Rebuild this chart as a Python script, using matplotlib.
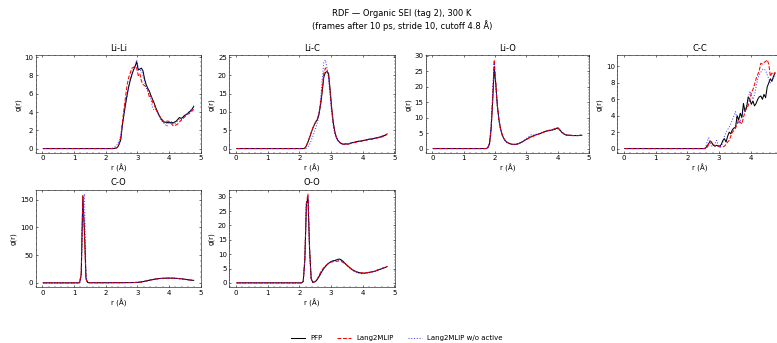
import numpy as np
import matplotlib.pyplot as plt
from matplotlib.ticker import AutoMinorLocator

# bin centres of the RDF histogram (0.05 A bins, cutoff 4.8 A)
r = np.round(0.025 + 0.05 * np.arange(96), 3)

labels = ['PFP', 'Lang2MLIP', 'Lang2MLIP w/o active']
pairs = ['Li-Li', 'Li-C', 'Li-O', 'C-C', 'C-O', 'O-O']


def pad(tail):
    """values below the listed tail are all g(r) = 0"""
    return np.array([0.0] * (len(r) - len(tail)) + tail)


# ---- Li-Li, tail starts at r = 2.025
lili_pfp = pad([0, 0, 0, 0, 0, 0.02, 0.05, 0.15, 0.5, 1.0,
                2.6, 3.8, 4.9, 5.9, 6.8, 7.5, 8.1, 8.6, 9.0, 9.5,
                8.6, 8.7, 8.8, 8.5, 7.6, 7.0, 6.6, 6.3, 5.8, 5.4,
                5.0, 4.5, 4.1, 3.7, 3.4, 3.1, 2.9, 2.9, 2.8, 2.9,
                2.8, 2.9, 2.8, 2.9, 3.0, 3.2, 3.4, 3.3, 3.4, 3.6,
                3.7, 3.8, 4.0, 4.1, 4.3, 4.6])
lili_l2m = pad([0, 0, 0, 0, 0, 0.02, 0.05, 0.2, 0.6, 1.3,
                2.9, 4.3, 5.7, 7.0, 7.8, 8.3, 8.8, 8.9, 9.0, 8.8,
                8.0, 8.2, 7.4, 7.0, 6.9, 6.7, 6.5, 5.6, 5.8, 5.1,
                4.8, 4.4, 4.0, 3.7, 3.4, 3.2, 3.0, 2.9, 3.0, 3.0,
                2.9, 2.7, 2.5, 2.5, 2.6, 2.7, 2.9, 3.1, 3.3, 3.4,
                3.6, 3.8, 3.8, 4.0, 4.1, 4.3])
lili_noact = pad([0, 0, 0, 0, 0.05, 0.15, 0.3, 0.5, 0.9, 1.5,
                  2.5, 3.7, 4.8, 5.8, 6.8, 7.6, 8.3, 8.7, 9.0, 9.7,
                  8.8, 8.6, 8.5, 8.0, 7.3, 6.7, 6.3, 5.9, 5.4, 4.5,
                  4.2, 4.3, 4.1, 3.6, 3.2, 3.0, 2.8, 2.7, 2.4, 2.8,
                  2.8, 2.9, 2.7, 2.7, 2.9, 3.0, 3.2, 3.1, 3.2, 3.5,
                  3.6, 3.8, 3.9, 4.2, 4.4, 4.7])

# ---- Li-C, tail starts at r = 2.025
lic_pfp = pad([0, 0, 0, 0.1, 0.8, 1.8, 3.0, 4.3, 5.5, 6.5,
               7.3, 8.0, 9.5, 12.0, 15.5, 19.5, 20.8, 21.0, 20.5, 16.0,
               11.0, 7.0, 4.5, 3.0, 2.2, 1.7, 1.4, 1.2, 1.2, 1.3,
               1.2, 1.3, 1.5, 1.6, 1.7, 1.8, 1.9, 2.0, 2.0, 2.1,
               2.2, 2.3, 2.4, 2.5, 2.6, 2.6, 2.7, 2.8, 2.9, 3.0,
               3.1, 3.2, 3.4, 3.5, 3.7, 4.0])
lic_l2m = pad([0, 0, 0, 0.1, 0.8, 1.9, 3.1, 4.4, 5.6, 6.6,
               7.4, 8.2, 9.8, 12.5, 16.5, 20.5, 22.0, 21.5, 20.0, 15.5,
               10.5, 6.8, 4.4, 3.0, 2.2, 1.7, 1.4, 1.2, 1.2, 1.2,
               1.2, 1.3, 1.4, 1.5, 1.6, 1.7, 1.8, 1.9, 2.0, 2.0,
               2.1, 2.2, 2.3, 2.4, 2.5, 2.5, 2.6, 2.7, 2.8, 2.9,
               3.0, 3.1, 3.2, 3.4, 3.6, 3.9])
lic_noact = pad([0, 0, 0, 0, 0.1, 0.5, 1.2, 2.2, 3.3, 4.5,
                 5.8, 7.2, 9.5, 13.5, 19.0, 23.5, 24.2, 22.0, 19.0, 14.5,
                 9.5, 6.2, 4.0, 2.8, 2.1, 1.6, 1.4, 1.2, 1.2, 1.3,
                 1.3, 1.4, 1.5, 1.6, 1.7, 1.8, 1.9, 2.0, 2.1, 2.1,
                 2.2, 2.3, 2.4, 2.5, 2.6, 2.6, 2.7, 2.8, 2.9, 3.0,
                 3.1, 3.2, 3.4, 3.5, 3.7, 4.0])

# ---- Li-O, tail starts at r = 1.525
lio_pfp = pad([0, 0, 0, 0, 0.02, 0.3, 1.5, 6.0, 15.0, 26.0,
               21.0, 14.0, 9.5, 6.5, 4.6, 3.4, 2.6, 2.1, 1.8, 1.6,
               1.4, 1.35, 1.35, 1.4, 1.5, 1.7, 1.9, 2.2, 2.5, 2.8,
               3.1, 3.4, 3.7, 3.9, 4.1, 4.3, 4.5, 4.6, 4.8, 5.0,
               5.2, 5.4, 5.6, 5.7, 5.8, 5.9, 6.0, 6.1, 6.3, 6.6,
               6.5, 6.0, 5.4, 5.0, 4.6, 4.4, 4.3, 4.3, 4.3, 4.2,
               4.2, 4.2, 4.2, 4.2, 4.3, 4.3])
lio_l2m = pad([0, 0, 0, 0, 0.02, 0.3, 1.6, 6.3, 16.0, 28.6,
               21.5, 14.0, 9.5, 6.5, 4.6, 3.4, 2.6, 2.1, 1.8, 1.6,
               1.4, 1.35, 1.35, 1.4, 1.5, 1.7, 1.9, 2.2, 2.5, 2.8,
               3.1, 3.3, 3.6, 3.8, 4.0, 4.2, 4.4, 4.6, 4.8, 5.0,
               5.2, 5.4, 5.6, 5.8, 5.9, 6.0, 6.1, 6.3, 6.5, 6.8,
               6.6, 6.0, 5.3, 4.9, 4.6, 4.4, 4.3, 4.3, 4.3, 4.2,
               4.2, 4.2, 4.2, 4.2, 4.3, 4.3])
lio_noact = pad([0, 0, 0, 0, 0.03, 0.4, 2.0, 7.5, 18.0, 27.6,
                 20.0, 13.5, 9.0, 6.2, 4.4, 3.3, 2.5, 2.0, 1.7, 1.5,
                 1.4, 1.35, 1.35, 1.4, 1.5, 1.7, 1.9, 2.2, 2.6, 3.0,
                 3.4, 3.8, 4.3, 4.5, 4.4, 4.5, 4.6, 4.7, 4.9, 5.1,
                 5.3, 5.5, 5.6, 5.7, 5.8, 5.9, 6.0, 6.1, 6.2, 6.4,
                 6.3, 5.8, 5.2, 4.8, 4.5, 4.3, 4.3, 4.3, 4.2, 4.2,
                 4.2, 4.2, 4.2, 4.2, 4.3, 4.3])

# ---- C-C, tail starts at r = 2.525
cc_pfp = pad([0, 0.05, 0.3, 0.6, 0.9, 0.7, 0.4, 0.3, 0.4, 0.3,
              0.3, 0.5, 1.0, 1.2, 0.8, 1.5, 2.0, 1.8, 2.3, 2.5,
              2.6, 4.0, 3.5, 4.3, 3.8, 5.5, 4.5, 5.0, 6.3, 6.0,
              5.4, 5.8, 5.2, 5.5, 6.0, 6.3, 6.4, 6.0, 6.6, 6.2,
              7.5, 8.0, 8.5, 8.2, 8.8, 9.2])
cc_l2m = pad([0, 0, 0.1, 0.5, 0.9, 0.8, 0.5, 0.3, 0.3, 0.3,
              0.2, 0.2, 0.2, 0.3, 0.5, 0.8, 1.0, 1.5, 2.0, 2.2,
              2.5, 3.0, 3.5, 3.2, 3.0, 3.8, 4.5, 5.0, 5.2, 6.0,
              6.8, 7.2, 7.8, 8.5, 9.0, 9.5, 10.4, 10.3, 10.5, 10.6,
              10.8, 10.3, 8.8, 9.2, 9.0, 9.3])
cc_noact = pad([0, 0.1, 0.8, 1.3, 0.8, 0.3, 0.3, 0.6, 1.0, 0.5,
                0.2, 0.3, 0.8, 1.5, 2.0, 2.3, 2.6, 3.0, 3.5, 4.0,
                4.5, 3.5, 3.0, 3.3, 4.0, 5.0, 4.8, 5.2, 6.0, 7.0,
                6.5, 6.0, 6.5, 7.5, 8.5, 9.0, 9.3, 9.6, 9.7, 9.5,
                9.0, 8.5, 8.0, 8.3, 8.6, 8.8])

# ---- C-O, tail starts at r = 1.025
co_pfp = pad([0, 0, 0, 0.5, 15, 157, 95, 8, 0.8, 0.3,
              0.2, 0.2, 0.2, 0.2, 0.2, 0.2, 0.2, 0.2, 0.2, 0.2,
              0.2, 0.2, 0.3, 0.3, 0.3, 0.3, 0.3, 0.3, 0.3, 0.3,
              0.3, 0.4, 0.4, 0.4, 0.5, 0.5, 0.5, 0.6, 0.7, 0.8,
              1.0, 1.3, 1.7, 2.2, 2.8, 3.4, 4.0, 4.7, 5.3, 5.9,
              6.4, 6.9, 7.3, 7.6, 7.9, 8.1, 8.3, 8.4, 8.5, 8.5,
              8.5, 8.5, 8.4, 8.3, 8.1, 7.9, 7.6, 7.3, 7.0, 6.6,
              6.2, 5.8, 5.4, 5.0, 4.7, 4.4])
co_l2m = pad([0, 0, 0, 0.6, 18, 155, 90, 7, 0.8, 0.3,
              0.2, 0.2, 0.2, 0.2, 0.2, 0.2, 0.2, 0.2, 0.2, 0.2,
              0.2, 0.2, 0.3, 0.3, 0.3, 0.3, 0.3, 0.3, 0.3, 0.3,
              0.3, 0.4, 0.4, 0.4, 0.5, 0.5, 0.5, 0.6, 0.7, 0.8,
              1.0, 1.3, 1.7, 2.2, 2.8, 3.4, 4.0, 4.6, 5.2, 5.8,
              6.3, 6.8, 7.2, 7.5, 7.8, 8.0, 8.2, 8.3, 8.4, 8.4,
              8.4, 8.4, 8.3, 8.2, 8.0, 7.8, 7.5, 7.2, 6.9, 6.5,
              6.1, 5.7, 5.3, 4.9, 4.6, 4.3])
co_noact = pad([0, 0, 0, 0.4, 12, 145, 160, 12, 0.8, 0.3,
                0.2, 0.2, 0.2, 0.2, 0.2, 0.2, 0.2, 0.2, 0.2, 0.2,
                0.2, 0.2, 0.3, 0.3, 0.3, 0.3, 0.3, 0.3, 0.3, 0.3,
                0.3, 0.4, 0.4, 0.4, 0.5, 0.5, 0.5, 0.6, 0.7, 0.8,
                1.0, 1.3, 1.7, 2.2, 2.8, 3.4, 4.0, 4.7, 5.3, 5.9,
                6.4, 6.9, 7.3, 7.6, 7.9, 8.1, 8.3, 8.4, 8.5, 8.6,
                8.6, 8.5, 8.4, 8.3, 8.1, 7.9, 7.6, 7.3, 7.0, 6.6,
                6.2, 5.8, 5.4, 5.0, 4.7, 4.4])

# ---- O-O, tail starts at r = 2.025
oo_pfp = pad([0, 0, 0.5, 8.0, 27.5, 29.5, 12.0, 1.5, 0.2, 0.3,
              0.6, 1.3, 2.2, 3.2, 4.2, 5.0, 5.7, 6.3, 6.8, 7.2,
              7.5, 7.7, 7.8, 8.0, 8.2, 8.3, 8.0, 7.6, 7.0, 6.5,
              6.0, 5.5, 5.0, 4.6, 4.3, 4.0, 3.8, 3.6, 3.5, 3.4,
              3.4, 3.4, 3.5, 3.6, 3.7, 3.8, 3.9, 4.0, 4.2, 4.4,
              4.6, 4.8, 5.0, 5.2, 5.4, 5.7])
oo_l2m = pad([0, 0, 0.6, 8.5, 28.0, 31.0, 11.5, 1.4, 0.2, 0.3,
              0.7, 1.5, 2.6, 3.7, 4.6, 5.3, 5.9, 6.4, 6.8, 7.1,
              7.3, 7.4, 7.5, 7.5, 7.6, 7.6, 7.4, 7.2, 6.8, 6.4,
              5.9, 5.4, 5.0, 4.6, 4.3, 4.0, 3.8, 3.6, 3.5, 3.5,
              3.5, 3.5, 3.6, 3.6, 3.7, 3.8, 3.9, 4.1, 4.3, 4.5,
              4.7, 4.9, 5.1, 5.3, 5.5, 5.7])
oo_noact = pad([0, 0, 0.5, 8.0, 28.0, 30.0, 11.0, 1.3, 0.2, 0.3,
                0.6, 1.3, 2.2, 3.2, 4.2, 5.0, 5.7, 6.3, 6.8, 7.2,
                7.5, 7.7, 7.8, 7.9, 8.0, 8.0, 7.8, 7.4, 6.9, 6.4,
                5.9, 5.4, 4.9, 4.5, 4.1, 3.8, 3.6, 3.4, 3.3, 3.2,
                3.2, 3.3, 3.3, 3.4, 3.6, 3.7, 3.9, 4.0, 4.2, 4.4,
                4.6, 4.8, 5.0, 5.2, 5.4, 5.6])

rdf = {
    'Li-Li': (lili_pfp, lili_l2m, lili_noact),
    'Li-C': (lic_pfp, lic_l2m, lic_noact),
    'Li-O': (lio_pfp, lio_l2m, lio_noact),
    'C-C': (cc_pfp, cc_l2m, cc_noact),
    'C-O': (co_pfp, co_l2m, co_noact),
    'O-O': (oo_pfp, oo_l2m, oo_noact),
}

plt.rcParams['font.family'] = 'DejaVu Sans'
plt.rcParams['font.size'] = 10
plt.rcParams['xtick.direction'] = 'in'
plt.rcParams['ytick.direction'] = 'in'
plt.rcParams['xtick.top'] = True
plt.rcParams['ytick.right'] = True

W, H = 777, 343
fig = plt.figure(figsize=(W / 50, H / 50), dpi=50)

# axes boxes in pixels: left, top, width, height
boxes = {
    'Li-Li': (35.7, 55.5, 165.5, 97.5),
    'Li-C': (229.3, 55.5, 165.3, 97.5),
    'Li-O': (425.7, 55.5, 163.6, 97.5),
    'C-C': (617.3, 55.5, 165.3, 97.5),
    'C-O': (35.7, 189.5, 165.5, 97.8),
    'O-O': (229.3, 189.5, 165.3, 97.8),
}

styles = [dict(color='black', ls='-'),
          dict(color='red', ls='--'),
          dict(color='blue', ls=':', alpha=0.7)]

for name in pairs:
    x0, y0, w, h = boxes[name]
    ax = fig.add_axes([x0 / W, 1 - (y0 + h) / H, w / W, h / H])
    for g, st, lab in zip(rdf[name], styles, labels):
        ax.plot(r, g, lw=1.5, label=lab, **st)
    ax.set_title(name)
    ax.set_xlabel('r (Å)')
    ax.set_ylabel('g(r)')
    if name == 'C-C':
        # the right edge of this panel runs past the picture
        ax.set_xticks([0, 1, 2, 3, 4, 5], ['0', '1', '2', '3', '4', ''])
    else:
        ax.set_xticks([0, 1, 2, 3, 4, 5])
    ax.xaxis.set_minor_locator(AutoMinorLocator())
    ax.yaxis.set_minor_locator(AutoMinorLocator())
    ax.tick_params(which='both', top=True, right=True)
    if name == 'Li-Li':
        handles, labs = ax.get_legend_handles_labels()

fig.text(402 / W, 1 - 9 / H,
         'RDF — Organic SEI (tag 2), 300 K\n(frames after 10 ps, stride 10, cutoff 4.8 Å)',
         ha='center', va='top', fontsize=12)

fig.legend(handles, labs, loc='center', ncol=3, frameon=False,
           bbox_to_anchor=(397 / W, 1 - 338 / H))

plt.savefig('out.png', dpi=50)
